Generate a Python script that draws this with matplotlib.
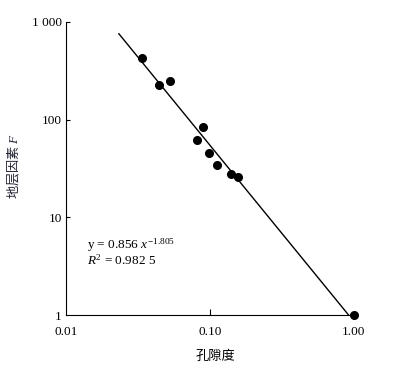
import matplotlib
matplotlib.use("Agg")
import matplotlib.pyplot as plt
import numpy as np

porosity = [0.0339, 0.0445, 0.0530, 0.0889, 0.0812, 0.098, 0.112, 0.140, 0.156, 1.0]
formation_factor = [428, 226, 247, 83.6, 62, 45.3, 34.6, 28, 25.7, 1.0]
fit_a = 0.856
fit_b = -1.805
fit_x_range = [0.0233, 1.0]
y_ticks = [1, 10, 100, 1000]
y_ticklabels = ["1", "10", "100", "1 000"]
x_ticks = [0.01, 0.1, 1.0]
x_ticklabels = ["0.01", "0.10", "1.00"]

plt.rcParams['font.family'] = ['Liberation Serif', 'Noto Sans CJK SC']
plt.rcParams['mathtext.fontset'] = 'custom'
plt.rcParams['mathtext.rm'] = 'Liberation Serif'
plt.rcParams['mathtext.it'] = 'Liberation Serif:italic'

fig = plt.figure(figsize=(3.95, 3.73), dpi=100)
ax = fig.add_axes([66/395, 1-315/373, 291/395, 293/373])

xf = np.logspace(np.log10(fit_x_range[0]), np.log10(fit_x_range[1]), 100)
ax.plot(xf, fit_a * xf ** fit_b, color='black', lw=1.0)
ax.plot(porosity, formation_factor, 'o', color='black', markersize=5.5, clip_on=False)

ax.set_xscale('log')
ax.set_yscale('log')
ax.set_xlim(0.01, 1.05)
ax.set_ylim(1, 1000)
ax.spines['top'].set_visible(False)
ax.spines['right'].set_visible(False)
ax.set_xticks(x_ticks)
ax.set_xticklabels(x_ticklabels)
ax.set_yticks(y_ticks)
ax.set_yticklabels(y_ticklabels)
ax.minorticks_off()
ax.tick_params(axis='x', direction='in', length=4, labelsize=9.5, pad=8)
ax.tick_params(axis='y', direction='in', length=3, labelsize=9.5, pad=3)
ax.xaxis.get_major_ticks()[0].tick1line.set_visible(False)
ax.xaxis.get_major_ticks()[2].tick1line.set_visible(False)
ax.yaxis.get_major_ticks()[0].tick1line.set_visible(False)

ax.set_xlabel('孔隙度', fontsize=9.5, family=['Noto Sans CJK SC'], va='top')
ax.xaxis.set_label_coords(0.512, -0.118)
ax.set_ylabel('地层因素 $\\it{F}$', fontsize=9.5, family=['Noto Sans CJK SC', 'Liberation Serif'], color='#222233')
ax.yaxis.set_label_coords(-0.151, 0.51)

ax.text(0.072, 0.239, 'y = 0.856 $\\it{x}^{-1.805}$', transform=ax.transAxes, fontsize=9.5, va='center')
ax.text(0.072, 0.186, '$\\it{R}^2$ = 0.982 5', transform=ax.transAxes, fontsize=9.5, va='center')

fig.savefig('out.png', dpi=100)
